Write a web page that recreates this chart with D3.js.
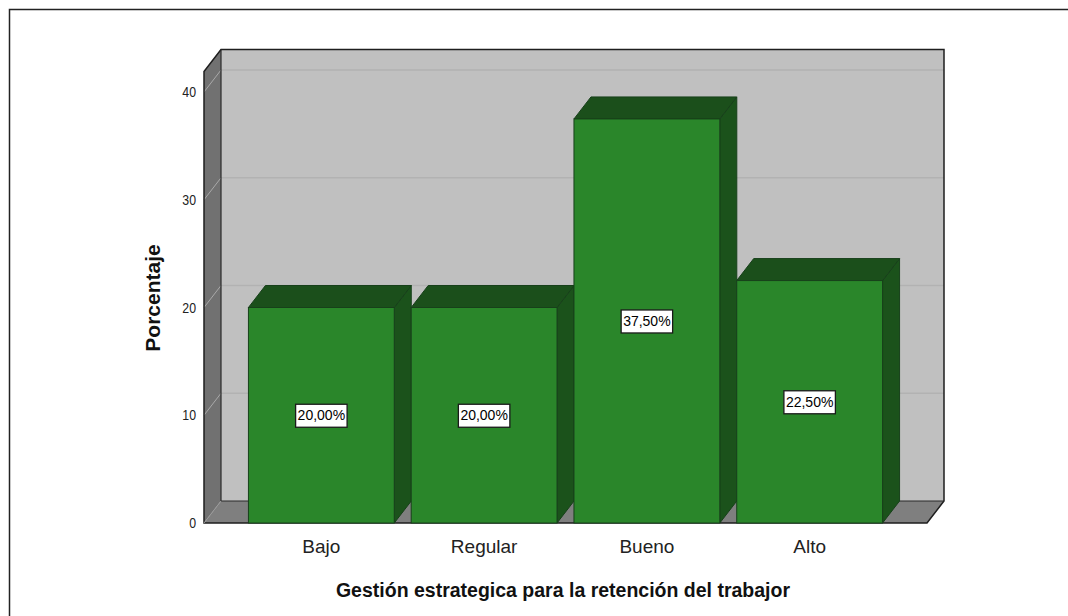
<!DOCTYPE html>
<html>
<head>
<meta charset="utf-8">
<script src="https://cdn.jsdelivr.net/npm/d3@7"></script>
<style>
  body { margin: 0; background: #fff; }
  text { font-family: Arial, "Liberation Sans", sans-serif; }
</style>
</head>
<body>
<div id="canvas"></div>
<script>
// Data
const categories = ["Bajo", "Regular", "Bueno", "Alto"];
const percentages = [20.0, 20.0, 37.5, 22.5];
const yTicks = [0, 10, 20, 30, 40];

const width = 1068;
const height = 616;
const depthX = 17;   // 3d offset of the back plane
const depthY = -22;

const colors = {
  front: "#2a862a",
  side: "#1b521b",
  top: "#1b4f1b",
  edge: "#17401a",
  wall: "#717171",
  floor: "#7f7f7f",
  plane: "#c0c0c0"
};

let svg = d3.select('#canvas').append('svg')
  .attr('width', width)
  .attr('height', height);

svg.append('rect').attr('width', width).attr('height', height).attr('fill', '#fff');

// outer frame (only left and top visible)
svg.append('path')
  .attr('d', 'M9.5,616 V9.5 H1068')
  .attr('fill', 'none')
  .attr('stroke', '#222')
  .attr('stroke-width', 1.5);

const y = d3.scaleLinear().domain([0, 40]).range([523, 92]);
const x = d3.scaleBand().domain(categories)
  .range([204, 927])
  .paddingInner(0.104)
  .paddingOuter(0.273);

const yTopVal = 41.9;
const xL = 204, xR = 927, yB = y(0), yT = y(yTopVal);

// back plane
svg.append('rect')
  .attr('x', xL + depthX).attr('y', yT + depthY)
  .attr('width', xR - xL).attr('height', yB - yT)
  .attr('fill', colors.plane);

// left wall
svg.append('polygon')
  .attr('points', [[xL, yT], [xL + depthX, yT + depthY], [xL + depthX, yB + depthY], [xL, yB]].join(' '))
  .attr('fill', colors.wall);

// floor
svg.append('polygon')
  .attr('points', [[xL, yB], [xL + depthX, yB + depthY], [xR + depthX, yB + depthY], [xR, yB]].join(' '))
  .attr('fill', colors.floor);

// gridlines on back plane and wall
yTicks.filter(t => t > 0).forEach(t => {
  svg.append('line')
    .attr('x1', xL + depthX).attr('x2', xR + depthX)
    .attr('y1', y(t) + depthY).attr('y2', y(t) + depthY)
    .attr('stroke', '#b2b2b2').attr('stroke-width', 1.5);
  svg.append('line')
    .attr('x1', xL).attr('x2', xL + depthX)
    .attr('y1', y(t)).attr('y2', y(t) + depthY)
    .attr('stroke', '#a9a9a9').attr('stroke-width', 1);
});

// edges of the box
svg.append('path')
  .attr('d', `M${xL},${yB} V${yT} L${xL + depthX},${yT + depthY} H${xR + depthX} V${yB + depthY} L${xR},${yB} Z`)
  .attr('fill', 'none').attr('stroke', '#1e1e1e').attr('stroke-width', 1.5);
svg.append('path')
  .attr('d', `M${xL + depthX},${yT + depthY} V${yB + depthY} H${xR + depthX}`)
  .attr('fill', 'none').attr('stroke', '#2a2a2a').attr('stroke-width', 1.2);
svg.append('line')
  .attr('x1', xL + depthX).attr('x2', xL).attr('y1', yB + depthY).attr('y2', yB)
  .attr('stroke', '#999').attr('stroke-width', 1);

// y tick labels (the original font is a bit condensed)
svg.selectAll('.ytick').data(yTicks).enter()
  .append('text')
  .attr('transform', d => `translate(196,${y(d) + 5}) scale(0.88,1)`)
  .attr('text-anchor', 'end')
  .attr('font-size', 14)
  .attr('fill', '#222')
  .text(d => d);

// bars
const bw = x.bandwidth();
const bars = svg.selectAll('.bar').data(categories.map((c, i) => ({ cat: c, val: percentages[i] })))
  .enter().append('g').attr('class', 'bar');

bars.append('polygon')
  .attr('points', d => {
    const x0 = x(d.cat) + bw, yt = y(d.val);
    return [[x0, yt], [x0 + depthX, yt + depthY], [x0 + depthX, yB + depthY], [x0, yB]].join(' ');
  })
  .attr('fill', colors.side).attr('stroke', colors.edge).attr('stroke-width', 1);

bars.append('polygon')
  .attr('points', d => {
    const x0 = x(d.cat), yt = y(d.val);
    return [[x0, yt], [x0 + depthX, yt + depthY], [x0 + bw + depthX, yt + depthY], [x0 + bw, yt]].join(' ');
  })
  .attr('fill', colors.top).attr('stroke', colors.edge).attr('stroke-width', 1);

bars.append('rect')
  .attr('x', d => x(d.cat))
  .attr('y', d => y(d.val))
  .attr('width', bw)
  .attr('height', d => yB - y(d.val))
  .attr('fill', colors.front).attr('stroke', colors.edge).attr('stroke-width', 1);

// value labels
const fmt = v => v.toFixed(2).replace('.', ',') + '%';
bars.each(function(d) {
  const g = d3.select(this);
  const cx = x(d.cat) + bw / 2;
  const cy = (y(d.val) + yB) / 2;
  const t = g.append('text')
    .attr('x', cx).attr('y', cy + 5)
    .attr('text-anchor', 'middle')
    .attr('font-size', 14)
    .attr('fill', '#000')
    .text(fmt(d.val));
  const w = t.node().getComputedTextLength() + 4;
  g.insert('rect', 'text')
    .attr('x', cx - w / 2).attr('y', cy - 11)
    .attr('width', w).attr('height', 23)
    .attr('fill', '#fff').attr('stroke', '#1a1a1a').attr('stroke-width', 1.3);
});

// category labels
svg.selectAll('.xlabel').data(categories).enter()
  .append('text')
  .attr('x', d => x(d) + bw / 2)
  .attr('y', 553)
  .attr('text-anchor', 'middle')
  .attr('font-size', 19)
  .attr('fill', '#222')
  .text(d => d);

// axis titles
svg.append('text')
  .attr('x', 563).attr('y', 597)
  .attr('text-anchor', 'middle')
  .attr('font-size', 19.5).attr('font-weight', 'bold')
  .attr('fill', '#111')
  .text('Gestión estrategica para la retención del trabajor');

svg.append('text')
  .attr('transform', 'translate(160,298) rotate(-90)')
  .attr('text-anchor', 'middle')
  .attr('font-size', 21).attr('font-weight', 'bold')
  .attr('fill', '#111')
  .text('Porcentaje');
</script>
</body>
</html>
